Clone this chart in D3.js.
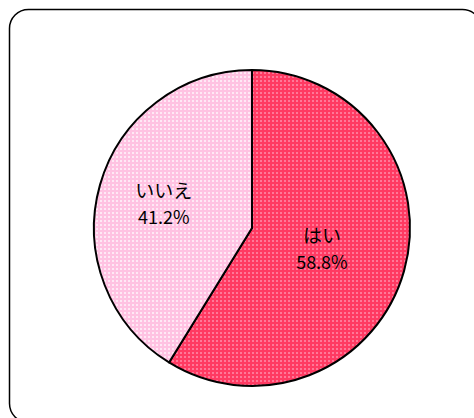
<!DOCTYPE html>
<html>
<head>
<meta charset="utf-8">
<script src="https://cdn.jsdelivr.net/npm/d3@7"></script>
<style>
  body { margin: 0; background: #fff; }
  text { font-family: "Noto Sans CJK JP", sans-serif; fill: #000; }
</style>
</head>
<body>
<script>
var width = 474;
var height = 418;

var labels = ["はい", "いいえ"];
var values = [58.8, 41.2];
var baseColors = ["#ff3a62", "#ffc2e2"];
var dotColors = ["#ff7898", "#ffe8f5"];

var svg = d3.select("body").append("svg")
    .attr("width", width)
    .attr("height", height);

var defs = svg.append("defs");
labels.forEach(function(l, i) {
  var p = defs.append("pattern")
      .attr("id", "pat" + i)
      .attr("width", 4).attr("height", 4)
      .attr("patternUnits", "userSpaceOnUse");
  p.append("rect").attr("width", 4).attr("height", 4).attr("fill", baseColors[i]);
  p.append("rect").attr("width", 2).attr("height", 2).attr("fill", dotColors[i]);
});

// frame, runs off the right and bottom
svg.append("rect")
    .attr("x", 9.5).attr("y", 9.5)
    .attr("width", 472).attr("height", 413)
    .attr("rx", 19).attr("ry", 19)
    .attr("fill", "none")
    .attr("stroke", "#000")
    .attr("stroke-width", 1.5);

var cx = 252, cy = 228, r = 158;

var pie = d3.pie().sort(null).value(function(d) { return d; });
var arc = d3.arc().innerRadius(0).outerRadius(r);
var arcs = pie(values);

var g = svg.append("g").attr("transform", "translate(" + cx + "," + cy + ")");

g.selectAll(".slice")
  .data(arcs)
  .enter()
    .append("path")
    .attr("class", "slice")
    .attr("d", arc)
    .attr("fill", function(d, i) { return "url(#pat" + i + ")"; })
    .attr("stroke", "#000")
    .attr("stroke-width", 2)
    .attr("stroke-linejoin", "round");

// label distance from centre, as a share of the radius
var labelPos = [0.46, 0.58];

var lab = g.selectAll(".lab")
  .data(arcs)
  .enter()
    .append("g")
    .attr("class", "lab")
    .attr("transform", function(d, i) {
      var a = d3.arc().innerRadius(r * labelPos[i]).outerRadius(r * labelPos[i]);
      var c = a.centroid(d);
      return "translate(" + c[0] + "," + c[1] + ")";
    });

lab.append("text")
    .attr("text-anchor", "middle")
    .attr("y", -5)
    .style("font-size", "19px")
    .text(function(d, i) { return labels[i]; });

lab.append("text")
    .attr("text-anchor", "middle")
    .attr("y", 21)
    .style("font-size", "18px")
    .text(function(d, i) { return values[i].toFixed(1) + "%"; });
</script>
</body>
</html>
